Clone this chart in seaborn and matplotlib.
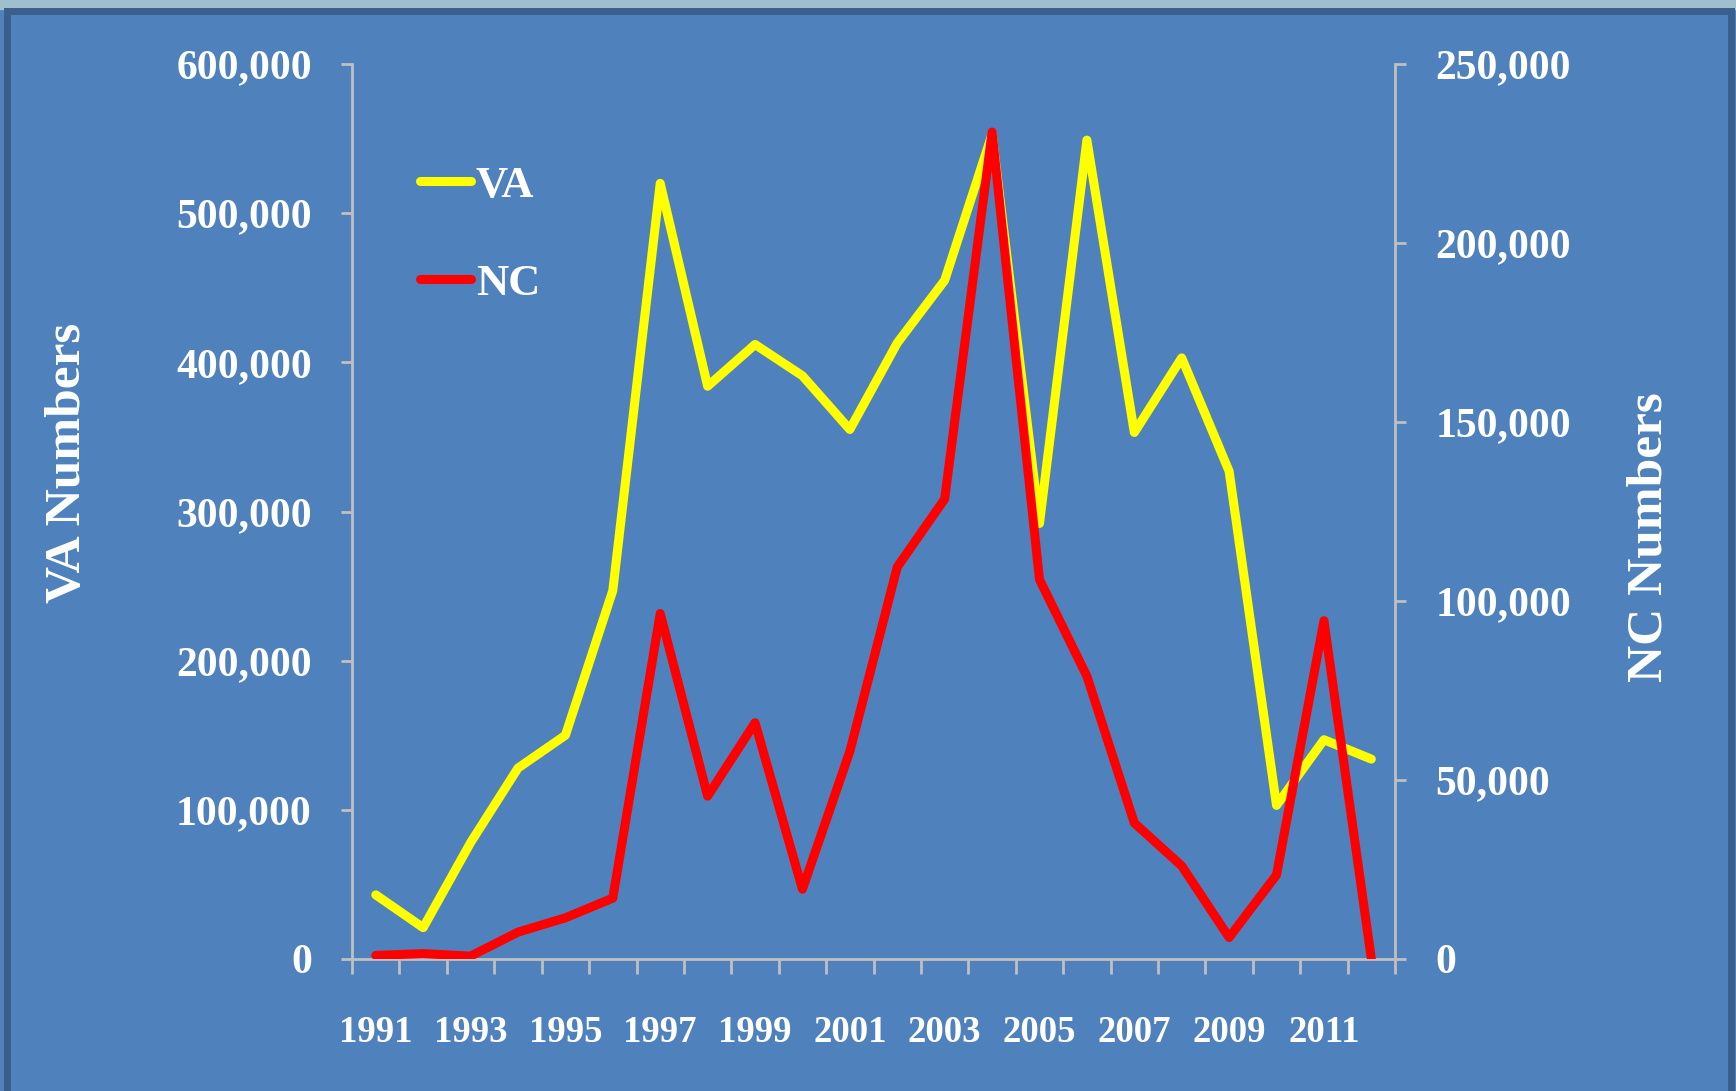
import numpy as np
import pandas as pd
import seaborn as sns
import matplotlib.pyplot as plt
from matplotlib.patches import Rectangle
from matplotlib.ticker import FixedLocator, FuncFormatter

# Data
years = list(range(1991, 2013))
va_numbers = [43000, 21000, 78000, 128000, 150000, 247000, 520000, 384000, 412000, 391000, 355000,
              413000, 455000, 553000, 292000, 549000, 353000, 403000, 327000, 103000, 147000, 134000]
nc_numbers = [1000, 1500, 800, 7500, 11500, 17000, 96500, 45500, 66000, 19500, 58000,
              109500, 128500, 231000, 106000, 79000, 38000, 26000, 6000, 23500, 94500, 0]
year_labels = [str(y) if (y - 1991) % 2 == 0 else "" for y in years]

df = pd.DataFrame({"pos": np.arange(len(years)), "year": years, "VA": va_numbers, "NC": nc_numbers})

bg = "#4F81BD"
grey = "#BFBFBF"
sns.set_style("ticks")
plt.rcParams["font.family"] = ["Liberation Serif", "DejaVu Serif"]
plt.rcParams["font.weight"] = "bold"

fig = plt.figure(figsize=(17.36, 10.91), dpi=100, facecolor=bg)
ax = fig.add_axes([0.2028, 0.121, 0.6008, 0.8203])
ax.set_facecolor(bg)
ax2 = ax.twinx()

sns.lineplot(data=df, x="pos", y="VA", ax=ax, color="#FFFF00", linewidth=6.5, label="VA", legend=False)
sns.lineplot(data=df, x="pos", y="NC", ax=ax2, color="#FF0000", linewidth=6.5, label="NC", legend=False)

ax.set_xlim(-0.5, len(years) - 0.5)
ax.set_ylim(0, 600000)
ax2.set_ylim(0, 250000)

fmt = FuncFormatter(lambda v, p: f"{v:,.0f}")
ax.set_yticks(np.arange(0, 600001, 100000))
ax2.set_yticks(np.arange(0, 250001, 50000))
ax.yaxis.set_major_formatter(fmt)
ax2.yaxis.set_major_formatter(fmt)

# categories: labels at centres, tick marks between categories
ax.set_xticks(df["pos"])
ax.set_xticklabels(year_labels)
ax.xaxis.set_minor_locator(FixedLocator(np.arange(-0.5, len(years), 1.0)))
ax.tick_params(axis="x", which="major", length=0, pad=40, labelsize=26.5, labelcolor="white")
ax.tick_params(axis="x", which="minor", length=11, width=2, color=grey, direction="out")
ax.tick_params(axis="y", length=8, width=2, color=grey, pad=21, labelsize=30, labelcolor="white")
ax2.tick_params(axis="y", length=8, width=2, color=grey, pad=21, labelsize=30, labelcolor="white")

for a in (ax, ax2):
    a.set_xlabel("")
    a.set_ylabel("")
    for s in a.spines.values():
        s.set_color(grey)
        s.set_linewidth(2)
    a.spines["top"].set_visible(False)
ax.spines["right"].set_visible(False)
ax2.spines["left"].set_visible(False)
ax2.spines["bottom"].set_visible(False)
ax2.patch.set_visible(False)

fig.text(0.039, 0.576, "VA Numbers", rotation=90, ha="center", va="center",
         color="white", fontsize=37, fontweight="bold")
fig.text(0.950, 0.508, "NC Numbers", rotation=90, ha="center", va="center",
         color="white", fontsize=37, fontweight="bold")

h1, l1 = ax.get_legend_handles_labels()
h2, l2 = ax2.get_legend_handles_labels()
leg = fig.legend(h1 + h2, l1 + l2, loc="upper left", bbox_to_anchor=(0.242, 0.848), frameon=False,
                 fontsize=32, handlelength=1.15, handletextpad=0.1, labelspacing=1.3,
                 borderpad=0, borderaxespad=0)
for t in leg.get_texts():
    t.set_color("white")

# slide frame
fig.patches.append(Rectangle((0, 0.992), 1, 0.008, transform=fig.transFigure, color="#9FBFCF", zorder=0))
fig.patches.append(Rectangle((0.004, -0.01), 0.993, 1.0, transform=fig.transFigure, fill=False,
                             edgecolor="#3A5F8C", linewidth=5, zorder=1))

fig.savefig("out.png", dpi=100, facecolor=bg)
